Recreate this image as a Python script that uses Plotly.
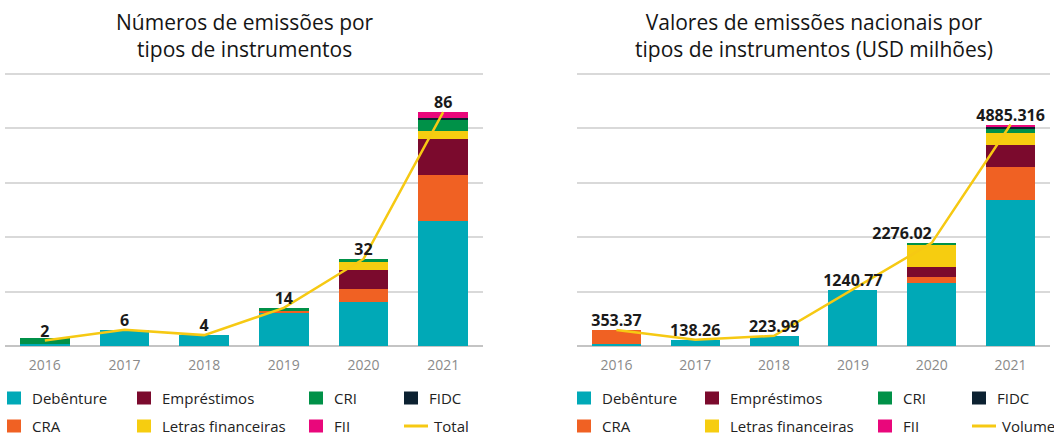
import plotly.graph_objects as go
from plotly.subplots import make_subplots

W, H = 1054, 435

years = ["2016", "2017", "2018", "2019", "2020", "2021"]
series_names = ["Debênture", "CRA", "Empréstimos", "Letras financeiras", "CRI", "FIDC", "FII"]
colors = {
    "Debênture": "#00A9B7",
    "CRA": "#F06123",
    "Empréstimos": "#7B0A2D",
    "Letras financeiras": "#F6CD10",
    "CRI": "#009148",
    "FIDC": "#0C2131",
    "FII": "#E9077B",
}
line_color = "#F6C913"

# Left chart: number of issuances by instrument
count_debenture = [0.6, 6, 4, 12, 16, 46]
count_cra = [0, 0, 0, 1, 5, 17]
count_emprestimos = [0, 0, 0, 0, 7, 13]
count_letras = [0, 0, 0, 0, 3, 3]
count_cri = [2.2, 0, 0, 1, 1, 4]
count_fidc = [0, 0, 0, 0, 0, 1]
count_fii = [0, 0, 0, 0, 0, 2]
count_total = [2, 6, 4, 14, 32, 86]
count_labels = ["2", "6", "4", "14", "32", "86"]

# Right chart: national issuance values (USD millions)
vol_debenture = [40, 138.26, 223.99, 1240.77, 1386, 3231]
vol_cra = [313.37, 0, 0, 0, 140, 728]
vol_emprestimos = [0, 0, 0, 0, 213, 485]
vol_letras = [0, 0, 0, 0, 493, 250]
vol_cri = [0, 0, 0, 0, 44, 110]
vol_fidc = [0, 0, 0, 0, 0, 30]
vol_fii = [0, 0, 0, 0, 0, 51]
vol_total = [353.37, 138.26, 223.99, 1240.77, 2276.02, 4885.316]
vol_labels = ["353.37", "138.26", "223.99", "1240.77", "2276.02", "4885.316"]
vol_label_pos = ["top center", "top center", "top center", "top center", "top left", "top center"]

left_series = [count_debenture, count_cra, count_emprestimos, count_letras, count_cri, count_fidc, count_fii]
right_series = [vol_debenture, vol_cra, vol_emprestimos, vol_letras, vol_cri, vol_fidc, vol_fii]

FONT = "Open Sans"

fig = make_subplots(rows=1, cols=2)

for name, vals in zip(series_names, left_series):
    fig.add_trace(go.Bar(x=years, y=vals, name=name, marker_color=colors[name],
                         marker_line_width=0, showlegend=False), row=1, col=1)
fig.add_trace(go.Scatter(x=years, y=count_total, mode="lines+text", text=count_labels,
                         textposition="top center",
                         textfont=dict(family=FONT, size=16, color="#1a1a1a", weight="bold"),
                         line=dict(color=line_color, width=2.5), showlegend=False,
                         cliponaxis=False), row=1, col=1)

for name, vals in zip(series_names, right_series):
    fig.add_trace(go.Bar(x=years, y=vals, name=name, marker_color=colors[name],
                         marker_line_width=0, showlegend=False), row=1, col=2)
fig.add_trace(go.Scatter(x=years, y=vol_total, mode="lines+text", text=vol_labels,
                         textposition=vol_label_pos,
                         textfont=dict(family=FONT, size=16, color="#1a1a1a", weight="bold"),
                         line=dict(color=line_color, width=2.5), showlegend=False,
                         cliponaxis=False), row=1, col=2)

# plot area: baseline at y=346 px, top gridline (100 / 6000) at y=74 px; range padded by 2%
top_px = 346 - 1.02 * 272
ydom = [(H - 346) / H, (H - top_px) / H]
fig.update_layout(
    width=W, height=H, barmode="stack", bargap=0.38,
    margin=dict(l=0, r=0, t=0, b=0),
    plot_bgcolor="white", paper_bgcolor="white",
    font=dict(family=FONT, color="#222"),
    showlegend=False,
    xaxis=dict(domain=[5 / W, 483 / W]),
    xaxis2=dict(domain=[577 / W, 1050 / W]),
    yaxis=dict(domain=ydom, range=[0, 102], dtick=20),
    yaxis2=dict(domain=ydom, range=[0, 6120], dtick=1200),
)
for ax in ["xaxis", "xaxis2"]:
    fig.layout[ax].update(showgrid=False, showline=False, zeroline=False, ticks="",
                          ticklabelstandoff=9,
                          tickfont=dict(family=FONT, size=14, color="#8a8a8a"))
for ax in ["yaxis", "yaxis2"]:
    fig.layout[ax].update(showgrid=True, gridcolor="#D9D9D9", gridwidth=1.5,
                          zeroline=True, zerolinecolor="#C4C4C4", zerolinewidth=1.5,
                          showticklabels=False, ticks="")

def px(x):
    return x / W

def py(y):
    return 1 - y / H

annotations = []
shapes = []

# Left plot area line starts at x=11 (gridlines), keep a cover shape-free design.
# Titles
annotations.append(dict(x=px(245), y=py(36), xref="paper", yref="paper",
                        text="Números de emissões por<br>tipos de instrumentos",
                        showarrow=False, font=dict(family=FONT, size=21, color="#151515"),
                        xanchor="center", yanchor="middle", align="center"))
annotations.append(dict(x=px(814), y=py(36), xref="paper", yref="paper",
                        text="Valores de emissões nacionais por<br>tipos de instrumentos (USD milhões)",
                        showarrow=False, font=dict(family=FONT, size=21, color="#151515"),
                        xanchor="center", yanchor="middle", align="center"))

# Manual legends
legend_order = [
    ("Debênture", 0, 0), ("Empréstimos", 1, 0), ("CRI", 2, 0), ("FIDC", 3, 0),
    ("CRA", 0, 1), ("Letras financeiras", 1, 1), ("FII", 2, 1),
]
left_cols = [7, 137, 309, 404]
right_cols = [577, 705, 878, 972]
rows_y = [398, 426]

for cols, line_name in [(left_cols, "Total"), (right_cols, "Volume")]:
    for name, c, r in legend_order:
        x0 = cols[c]
        yc = rows_y[r]
        shapes.append(dict(type="rect", xref="paper", yref="paper",
                           x0=px(x0), x1=px(x0 + 14), y0=py(yc + 6.5), y1=py(yc - 6.5),
                           fillcolor=colors[name], line=dict(width=0)))
        annotations.append(dict(x=px(x0 + 23), y=py(yc), xref="paper", yref="paper",
                                text=name, showarrow=False, xanchor="left", yanchor="middle",
                                font=dict(family=FONT, size=15, color="#222")))
    x0 = cols[3]
    yc = rows_y[1]
    shapes.append(dict(type="line", xref="paper", yref="paper",
                       x0=px(x0), x1=px(x0 + 24), y0=py(yc), y1=py(yc),
                       line=dict(color=line_color, width=3)))
    annotations.append(dict(x=px(x0 + 28), y=py(yc), xref="paper", yref="paper",
                            text=line_name, showarrow=False, xanchor="left", yanchor="middle",
                            font=dict(family=FONT, size=15, color="#222")))

fig.update_layout(annotations=annotations, shapes=shapes)

fig.write_html("out.html", config={"displayModeBar": False},
               post_script="document.body.style.margin='0';document.body.style.overflow='hidden';")
